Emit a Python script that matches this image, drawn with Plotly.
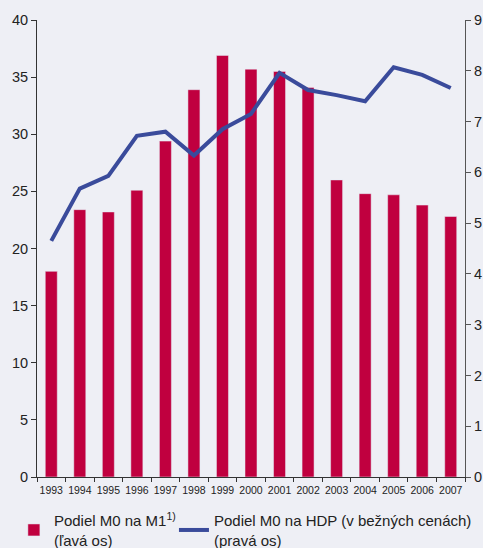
import plotly.graph_objects as go

years = [str(y) for y in range(1993, 2008)]
m0_m1 = [18.0, 23.4, 23.2, 25.1, 29.4, 33.9, 36.9, 35.7, 35.5, 34.1, 26.0, 24.8, 24.7, 23.8, 22.8]
m0_hdp = [4.65, 5.68, 5.93, 6.72, 6.80, 6.33, 6.85, 7.15, 7.96, 7.62, 7.52, 7.40, 8.07, 7.92, 7.66]

left_ticks = [0, 5, 10, 15, 20, 25, 30, 35, 40]
right_ticks = [0, 1, 2, 3, 4, 5, 6, 7, 8, 9]

bg = "#EEEFF5"
fig = go.Figure()
fig.add_trace(go.Bar(
    x=years, y=m0_m1, name="Podiel M0 na M1<sup>1)</sup><br>(ľavá os)",
    marker_color="#C0003F", width=0.42, yaxis="y", legend="legend",
))
fig.add_trace(go.Scatter(
    x=years, y=m0_hdp, name="Podiel M0 na HDP (v bežných cenách)<br>(pravá os)",
    mode="lines", line=dict(color="#3A4B9B", width=4), yaxis="y2", legend="legend2",
))

leg_common = dict(orientation="h", y=-0.059, xanchor="left", yanchor="top",
                  font=dict(size=15), bgcolor="rgba(0,0,0,0)", itemwidth=30,
                  tracegroupgap=0)

fig.update_layout(
    width=483, height=548,
    paper_bgcolor=bg, plot_bgcolor=bg,
    margin=dict(l=37, r=18, t=20, b=71, autoexpand=False),
    font=dict(family="Liberation Sans, Arial, sans-serif", color="#222222", size=14),
    showlegend=True,
    legend=dict(x=-0.054, **leg_common),
    legend2=dict(x=0.32, **leg_common),
    xaxis=dict(type="category", showgrid=False, showline=True, linecolor="#333333",
               ticks="outside", tickson="boundaries", ticklen=4, tickcolor="#333333",
               tickfont=dict(size=10.5), tickangle=0, automargin=False,
               ticklabelstandoff=3, range=[-0.5, 14.5]),
    yaxis=dict(range=[0, 40], tickvals=left_ticks, showgrid=False, showline=True,
               linecolor="#333333", ticks="outside", ticklen=5, tickcolor="#333333",
               tickfont=dict(size=14.5), zeroline=False, automargin=False),
    yaxis2=dict(range=[0, 9], tickvals=right_ticks, overlaying="y", side="right",
                anchor="x", showticklabels=True, ticklabelposition="outside",
                showgrid=False, showline=True, linecolor="#555555", ticks="outside",
                ticklen=5, tickcolor="#555555", tickfont=dict(size=14.5, color="#222222"),
                zeroline=False, automargin=False, ticklabeloverflow="allow"),
    bargap=0.5,
)

fig.write_html(
    "out.html",
    config={"displayModeBar": False},
    post_script="document.body.style.margin='0';document.body.style.overflow='hidden';",
)
